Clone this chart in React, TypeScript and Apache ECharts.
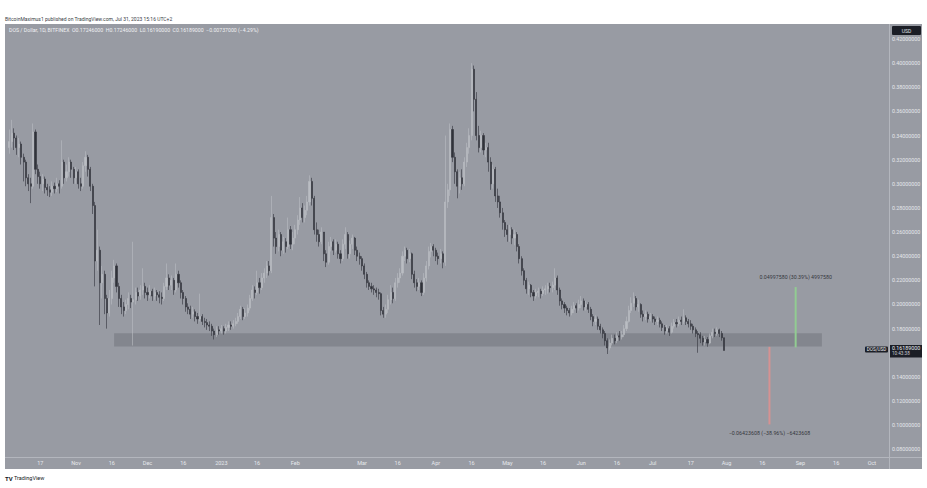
import React, { useEffect, useRef } from "react";
import * as echarts from "echarts";

// ---- Daily DOS/USD candles: [close, high, low]; open = previous close ----
const firstOpen = 0.33;

const oct22 = [
  [0.335, 0.345, 0.325], [0.342, 0.353, 0.33], [0.338, 0.346, 0.328], [0.33, 0.34, 0.324],
  [0.333, 0.338, 0.322], [0.322, 0.335, 0.316], [0.318, 0.325, 0.302], [0.305, 0.32, 0.298],
  [0.3, 0.308, 0.294], [0.298, 0.305, 0.284], [0.343, 0.35, 0.296], [0.312, 0.345, 0.308],
  [0.306, 0.316, 0.3], [0.3, 0.31, 0.296], [0.304, 0.308, 0.294], [0.297, 0.306, 0.292],
  [0.295, 0.3, 0.29], [0.293, 0.298, 0.289], [0.298, 0.302, 0.29], [0.296, 0.301, 0.292],
  [0.3, 0.305, 0.293], [0.298, 0.303, 0.292], [0.318, 0.336, 0.296], [0.305, 0.32, 0.3],
  [0.31, 0.316, 0.302], [0.318, 0.322, 0.306], [0.312, 0.32, 0.305], [0.305, 0.314, 0.3],
];
const nov22 = [
  [0.31, 0.314, 0.3], [0.3, 0.312, 0.296], [0.298, 0.305, 0.294], [0.315, 0.318, 0.296],
  [0.322, 0.327, 0.31], [0.312, 0.324, 0.306], [0.298, 0.314, 0.294], [0.282, 0.3, 0.275],
  [0.236, 0.285, 0.215], [0.245, 0.262, 0.228], [0.218, 0.248, 0.183], [0.225, 0.232, 0.205],
  [0.205, 0.228, 0.192], [0.193, 0.208, 0.18], [0.205, 0.212, 0.19], [0.222, 0.228, 0.2],
  [0.232, 0.237, 0.218], [0.215, 0.234, 0.21], [0.205, 0.218, 0.198], [0.198, 0.208, 0.192],
  [0.195, 0.202, 0.19], [0.2, 0.204, 0.192], [0.205, 0.21, 0.196], [0.202, 0.208, 0.197],
  [0.204, 0.252, 0.166], [0.21, 0.214, 0.2], [0.207, 0.214, 0.203], [0.212, 0.216, 0.204],
  [0.215, 0.23, 0.208], [0.21, 0.218, 0.205],
];
const dec22 = [
  [0.208, 0.214, 0.203], [0.211, 0.216, 0.205], [0.207, 0.213, 0.203], [0.21, 0.214, 0.204],
  [0.208, 0.212, 0.203], [0.206, 0.211, 0.201], [0.205, 0.21, 0.2], [0.215, 0.218, 0.203],
  [0.222, 0.234, 0.212], [0.216, 0.225, 0.212], [0.22, 0.224, 0.212], [0.212, 0.222, 0.208],
  [0.225, 0.234, 0.21], [0.218, 0.228, 0.214], [0.21, 0.22, 0.205], [0.205, 0.212, 0.2],
  [0.198, 0.207, 0.194], [0.196, 0.201, 0.192], [0.192, 0.199, 0.188], [0.194, 0.198, 0.189],
  [0.19, 0.196, 0.186], [0.188, 0.193, 0.184], [0.19, 0.209, 0.186], [0.186, 0.192, 0.183],
  [0.185, 0.189, 0.181], [0.183, 0.188, 0.179], [0.182, 0.186, 0.178], [0.178, 0.184, 0.174],
  [0.175, 0.18, 0.171], [0.179, 0.182, 0.173], [0.178, 0.182, 0.175],
];
const jan23 = [
  [0.18, 0.183, 0.176], [0.178, 0.182, 0.175], [0.181, 0.184, 0.176], [0.183, 0.186, 0.178],
  [0.182, 0.186, 0.179], [0.184, 0.187, 0.18], [0.186, 0.189, 0.182], [0.19, 0.193, 0.184],
  [0.196, 0.199, 0.188], [0.19, 0.198, 0.187], [0.193, 0.197, 0.188], [0.197, 0.2, 0.19],
  [0.205, 0.208, 0.195], [0.212, 0.216, 0.203], [0.21, 0.215, 0.205], [0.218, 0.228, 0.208],
  [0.214, 0.222, 0.209], [0.222, 0.226, 0.212], [0.226, 0.23, 0.218], [0.232, 0.236, 0.222],
  [0.228, 0.236, 0.224], [0.272, 0.29, 0.226], [0.255, 0.275, 0.248], [0.248, 0.26, 0.242],
  [0.258, 0.262, 0.244], [0.245, 0.26, 0.24], [0.252, 0.256, 0.242], [0.248, 0.255, 0.243],
  [0.262, 0.272, 0.246], [0.25, 0.265, 0.246], [0.255, 0.26, 0.245],
];
const feb23 = [
  [0.262, 0.266, 0.25], [0.27, 0.274, 0.258], [0.28, 0.289, 0.266], [0.272, 0.284, 0.268],
  [0.278, 0.282, 0.268], [0.285, 0.29, 0.274], [0.302, 0.307, 0.282], [0.288, 0.305, 0.282],
  [0.262, 0.29, 0.258], [0.258, 0.268, 0.252], [0.252, 0.262, 0.248], [0.26, 0.264, 0.25],
  [0.242, 0.26, 0.236], [0.235, 0.245, 0.231], [0.248, 0.252, 0.233], [0.252, 0.256, 0.244],
  [0.245, 0.254, 0.241], [0.25, 0.254, 0.243], [0.242, 0.252, 0.238], [0.238, 0.245, 0.234],
  [0.25, 0.254, 0.236], [0.258, 0.264, 0.246], [0.242, 0.26, 0.238], [0.25, 0.253, 0.238],
  [0.255, 0.258, 0.246], [0.245, 0.256, 0.241], [0.24, 0.248, 0.236], [0.238, 0.243, 0.233],
];
const mar23 = [
  [0.232, 0.24, 0.228], [0.225, 0.234, 0.221], [0.218, 0.227, 0.214], [0.215, 0.22, 0.212],
  [0.213, 0.218, 0.21], [0.212, 0.216, 0.208], [0.21, 0.214, 0.206], [0.209, 0.213, 0.204],
  [0.195, 0.21, 0.191], [0.192, 0.198, 0.189], [0.196, 0.2, 0.189], [0.204, 0.208, 0.193],
  [0.21, 0.216, 0.2], [0.205, 0.214, 0.201], [0.218, 0.222, 0.203], [0.222, 0.226, 0.214],
  [0.226, 0.23, 0.218], [0.24, 0.244, 0.224], [0.245, 0.248, 0.236], [0.238, 0.247, 0.234],
  [0.242, 0.246, 0.235], [0.225, 0.243, 0.221], [0.218, 0.228, 0.214], [0.215, 0.221, 0.211],
  [0.218, 0.222, 0.212], [0.21, 0.22, 0.207], [0.222, 0.226, 0.208], [0.232, 0.236, 0.219],
  [0.244, 0.248, 0.229], [0.248, 0.251, 0.239], [0.245, 0.25, 0.24],
];
const apr23 = [
  [0.24, 0.247, 0.236], [0.238, 0.243, 0.233], [0.242, 0.246, 0.234], [0.235, 0.244, 0.23],
  [0.285, 0.34, 0.232], [0.295, 0.3, 0.28], [0.345, 0.35, 0.29], [0.322, 0.348, 0.318],
  [0.31, 0.326, 0.3], [0.298, 0.312, 0.288], [0.305, 0.31, 0.292], [0.3, 0.312, 0.295],
  [0.318, 0.322, 0.298], [0.33, 0.334, 0.314], [0.34, 0.346, 0.325], [0.395, 0.4, 0.336],
  [0.37, 0.398, 0.36], [0.34, 0.376, 0.336], [0.33, 0.348, 0.326], [0.34, 0.344, 0.326],
  [0.328, 0.342, 0.324], [0.33, 0.334, 0.322], [0.318, 0.334, 0.31], [0.3, 0.322, 0.295],
  [0.312, 0.316, 0.296], [0.29, 0.314, 0.285], [0.285, 0.296, 0.28], [0.276, 0.29, 0.272],
  [0.268, 0.28, 0.262], [0.262, 0.27, 0.256],
];
const may23 = [
  [0.258, 0.266, 0.252], [0.262, 0.266, 0.252], [0.255, 0.264, 0.25], [0.258, 0.262, 0.249],
  [0.248, 0.26, 0.244], [0.238, 0.25, 0.234], [0.228, 0.24, 0.224], [0.22, 0.23, 0.216],
  [0.213, 0.222, 0.209], [0.216, 0.219, 0.208], [0.21, 0.217, 0.206], [0.207, 0.212, 0.203],
  [0.21, 0.213, 0.205], [0.211, 0.214, 0.206], [0.209, 0.213, 0.205], [0.212, 0.215, 0.207],
  [0.213, 0.216, 0.208], [0.215, 0.218, 0.209], [0.214, 0.218, 0.21], [0.216, 0.219, 0.21],
  [0.222, 0.23, 0.212], [0.212, 0.224, 0.208], [0.203, 0.214, 0.199], [0.2, 0.205, 0.196],
  [0.197, 0.202, 0.193], [0.195, 0.199, 0.191], [0.193, 0.197, 0.19], [0.196, 0.199, 0.191],
  [0.199, 0.202, 0.193], [0.197, 0.201, 0.193], [0.2, 0.204, 0.195],
];
const jun23 = [
  [0.203, 0.207, 0.197], [0.198, 0.205, 0.195], [0.2, 0.203, 0.195], [0.196, 0.202, 0.193],
  [0.19, 0.198, 0.187], [0.186, 0.192, 0.182], [0.188, 0.191, 0.183], [0.182, 0.19, 0.179],
  [0.179, 0.184, 0.176], [0.176, 0.181, 0.172], [0.17, 0.178, 0.166], [0.164, 0.172, 0.159],
  [0.168, 0.171, 0.162], [0.172, 0.175, 0.166], [0.17, 0.175, 0.167], [0.174, 0.177, 0.168],
  [0.173, 0.178, 0.17], [0.175, 0.178, 0.171], [0.18, 0.183, 0.173], [0.186, 0.19, 0.178],
  [0.195, 0.199, 0.185], [0.201, 0.206, 0.193], [0.205, 0.21, 0.198], [0.198, 0.207, 0.195],
  [0.2, 0.204, 0.194], [0.192, 0.201, 0.189], [0.19, 0.195, 0.186], [0.192, 0.195, 0.187],
  [0.188, 0.194, 0.185], [0.19, 0.193, 0.186],
];
const jul23 = [
  [0.188, 0.192, 0.185], [0.186, 0.19, 0.183], [0.187, 0.19, 0.183], [0.184, 0.189, 0.181],
  [0.181, 0.186, 0.178], [0.178, 0.183, 0.175], [0.18, 0.183, 0.176], [0.177, 0.182, 0.174],
  [0.182, 0.185, 0.176], [0.185, 0.188, 0.18], [0.184, 0.188, 0.181], [0.187, 0.19, 0.182],
  [0.186, 0.19, 0.183], [0.189, 0.196, 0.184], [0.186, 0.191, 0.183], [0.184, 0.188, 0.181],
  [0.182, 0.187, 0.179], [0.179, 0.184, 0.176], [0.176, 0.181, 0.173], [0.175, 0.178, 0.16],
  [0.172, 0.177, 0.168], [0.169, 0.174, 0.166], [0.171, 0.174, 0.166], [0.168, 0.173, 0.165],
  [0.174, 0.176, 0.167], [0.177, 0.18, 0.172], [0.176, 0.18, 0.173], [0.179, 0.181, 0.174],
  [0.176, 0.18, 0.173], [0.17246, 0.178, 0.17], [0.16189, 0.17246, 0.1619],
];

const monthBlocks = [
  { year: 2022, month: 10, startDay: 4, rows: oct22 },
  { year: 2022, month: 11, startDay: 1, rows: nov22 },
  { year: 2022, month: 12, startDay: 1, rows: dec22 },
  { year: 2023, month: 1, startDay: 1, rows: jan23 },
  { year: 2023, month: 2, startDay: 1, rows: feb23 },
  { year: 2023, month: 3, startDay: 1, rows: mar23 },
  { year: 2023, month: 4, startDay: 1, rows: apr23 },
  { year: 2023, month: 5, startDay: 1, rows: may23 },
  { year: 2023, month: 6, startDay: 1, rows: jun23 },
  { year: 2023, month: 7, startDay: 1, rows: jul23 },
];

// ---- Axis ticks ----
const xTickDates = [
  "2022-10-17", "2022-11-01", "2022-11-16", "2022-12-01", "2022-12-16", "2023-01-01",
  "2023-01-16", "2023-02-01", "2023-03-01", "2023-03-16", "2023-04-01", "2023-04-16",
  "2023-05-01", "2023-05-16", "2023-06-01", "2023-06-16", "2023-07-01", "2023-07-17",
  "2023-08-01", "2023-08-16", "2023-09-01", "2023-09-16", "2023-10-01",
];
const xTickLabels = [
  "17", "Nov", "16", "Dec", "16", "2023", "16", "Feb", "Mar", "16", "Apr", "16",
  "May", "16", "Jun", "16", "Jul", "17", "Aug", "16", "Sep", "16", "Oct",
];
const yTicks = [0.08, 0.1, 0.12, 0.14, 0.18, 0.2, 0.22, 0.24, 0.26, 0.28, 0.3, 0.32, 0.34, 0.36, 0.38, 0.4, 0.42];

// ---- Support zone and measurements ----
const zoneDates = ["2022-11-17", "2023-09-10"];
const zonePrices = [0.1652, 0.1761];
const upMeasure = { date: "2023-08-30", from: 0.16446, to: 0.21444, text: "0.04997580 (30.39%) 4997580" };
const downMeasure = { date: "2023-08-19", from: 0.16488, to: 0.10064, text: "\u22120.06423608 (\u221238.96%) \u22126423608" };
const lastPrice = 0.16189;

const viewStart = Date.UTC(2022, 9, 2, 5, 0);
const viewEnd = Date.UTC(2023, 9, 8, 4, 0);
const yMin = 0.07363;
const yMax = 0.43243;

const ts = (s: string) => {
  const [y, m, d] = s.split("-").map(Number);
  return Date.UTC(y, m - 1, d);
};

function buildCandles() {
  const out: number[][] = [];
  let prev = firstOpen;
  for (const b of monthBlocks) {
    b.rows.forEach((r, i) => {
      const t = Date.UTC(b.year, b.month - 1, b.startDay + i);
      const [c, h, l] = r;
      out.push([t, prev, c, Math.min(l, prev, c), Math.max(h, prev, c)]);
      prev = c;
    });
  }
  return out;
}

const PANE = "#989ba3";
const UP = "#babdc3";
const DOWN = "#30333a";
const FONT = "Roboto, 'Noto Sans', sans-serif";

export default function App() {
  const ref = useRef<HTMLDivElement>(null);
  useEffect(() => {
    if (!ref.current) return;
    const chart = echarts.init(ref.current, undefined, { renderer: "svg" });
    const candles = buildCandles();
    const tickMap = new Map<number, string>();
    xTickDates.forEach((d, i) => tickMap.set(ts(d), xTickLabels[i]));

    chart.setOption({
      animation: false,
      backgroundColor: "#ffffff",
      grid: { left: 5, right: 38, top: 24, bottom: 31, containLabel: false },
      xAxis: {
        type: "value",
        min: viewStart,
        max: viewEnd,
        axisLine: { show: false },
        axisTick: { show: false },
        splitLine: { show: false },
        axisLabel: {
          customValues: xTickDates.map(ts),
          formatter: (v: number) => tickMap.get(v) ?? "",
          color: "#e6e8ec",
          fontSize: 5.5,
          fontFamily: FONT,
          margin: 3,
        },
      },
      yAxis: {
        type: "value",
        position: "right",
        min: yMin,
        max: yMax,
        axisLine: { show: false },
        axisTick: { show: false },
        splitLine: { show: false },
        axisLabel: {
          customValues: yTicks,
          formatter: (v: number) => v.toFixed(8),
          color: "#e6e8ec",
          fontSize: 5.3,
          fontFamily: FONT,
          margin: 3,
          align: "left",
        },
      },
      series: [
        {
          type: "candlestick",
          data: candles,
          barWidth: 1.6,
          itemStyle: {
            color: UP,
            color0: DOWN,
            borderColor: UP,
            borderColor0: DOWN,
            borderWidth: 0.6,
          },
          markArea: {
            silent: true,
            itemStyle: { color: "rgba(90,93,103,0.34)" },
            data: [[
              { xAxis: ts(zoneDates[0]), yAxis: zonePrices[1] },
              { xAxis: ts(zoneDates[1]), yAxis: zonePrices[0] },
            ]],
          },
          z: 3,
        },
        {
          type: "line",
          data: [[ts(upMeasure.date), upMeasure.from], [ts(upMeasure.date), upMeasure.to]],
          symbol: "none",
          lineStyle: { color: "#92cc92", width: 2 },
          z: 4,
        },
        {
          type: "line",
          data: [[ts(downMeasure.date), downMeasure.from], [ts(downMeasure.date), downMeasure.to]],
          symbol: "none",
          lineStyle: { color: "#d69292", width: 2 },
          z: 4,
        },
        {
          type: "scatter",
          symbolSize: 0,
          z: 5,
          data: [
            {
              value: [ts(upMeasure.date), upMeasure.to],
              label: { show: true, position: "top", distance: 8, formatter: upMeasure.text },
            },
            {
              value: [ts(downMeasure.date), downMeasure.to],
              label: { show: true, position: "bottom", distance: 6, formatter: downMeasure.text },
            },
          ],
          label: { color: "#15171c", fontSize: 5.3, fontFamily: FONT },
        },
      ],
      graphic: [
        { id: "bg", type: "rect", z: -10, shape: { x: 5, y: 24, width: 917, height: 445 }, style: { fill: PANE } },
        { id: "vsep", type: "line", z: -9, shape: { x1: 889.5, y1: 24, x2: 889.5, y2: 469 }, style: { stroke: "#b3b6bd", lineWidth: 1 } },
        { id: "hsep", type: "line", z: -9, shape: { x1: 5, y1: 457.5, x2: 922, y2: 457.5 }, style: { stroke: "#b3b6bd", lineWidth: 1 } },
        {
          id: "pub", type: "text", z: 10, x: 5, y: 19,
          style: { text: "BitcoinMaximus1 published on TradingView.com, Jul 31, 2023 15:16 UTC+2", fill: "#3a3d45", font: `5px ${FONT}`, verticalAlign: "middle" },
        },
        {
          id: "legend", type: "text", z: 10, x: 9, y: 30,
          style: { text: "DOS / Dollar, 1D, BITFINEX  O0.17246000  H0.17246000  L0.16190000  C0.16189000  \u22120.00737000 (\u22124.29%)", fill: "#f0f1f4", font: `5.2px ${FONT}`, verticalAlign: "middle" },
        },
        { id: "usdBox", type: "rect", z: 10, shape: { x: 892, y: 26, width: 29, height: 9, r: 1 }, style: { fill: "#1b1e26" } },
        { id: "usdText", type: "text", z: 11, x: 906.5, y: 30.5, style: { text: "USD", fill: "#e0e3eb", font: `5px ${FONT}`, align: "center", verticalAlign: "middle" } },
        { id: "tvLogo", type: "text", z: 10, x: 5, y: 478, style: { text: "TV", fill: "#131722", font: `bold 6px ${FONT}`, verticalAlign: "middle" } },
        { id: "tvText", type: "text", z: 10, x: 14, y: 478, style: { text: "TradingView", fill: "#131722", font: `5.5px ${FONT}`, verticalAlign: "middle" } },
      ],
    });

    const py = chart.convertToPixel({ yAxisIndex: 0 }, lastPrice) as number;
    chart.setOption({
      graphic: [
        { id: "pBox", type: "rect", z: 20, shape: { x: 890, y: py - 5.5, width: 32, height: 12.5 }, style: { fill: "#1b1e26" } },
        { id: "pText", type: "text", z: 21, x: 892, y: py - 2.3, style: { text: lastPrice.toFixed(8), fill: "#f0f1f4", font: `5.3px ${FONT}`, verticalAlign: "middle" } },
        { id: "pCount", type: "text", z: 21, x: 892, y: py + 3.3, style: { text: "10:43:38", fill: "#c9ccd3", font: `4.6px ${FONT}`, verticalAlign: "middle" } },
        { id: "symBox", type: "rect", z: 20, shape: { x: 865, y: py - 4, width: 23, height: 6, r: 1 }, style: { fill: "#1b1e26" } },
        { id: "symText", type: "text", z: 21, x: 876.5, y: py - 1, style: { text: "DOS/USD", fill: "#f0f1f4", font: `4.6px ${FONT}`, align: "center", verticalAlign: "middle" } },
      ],
    });

    return () => chart.dispose();
  }, []);

  return (
    <div
      ref={ref}
      style={{ position: "fixed", left: 0, top: 0, width: 927, height: 488, background: "#fff" }}
    />
  );
}
